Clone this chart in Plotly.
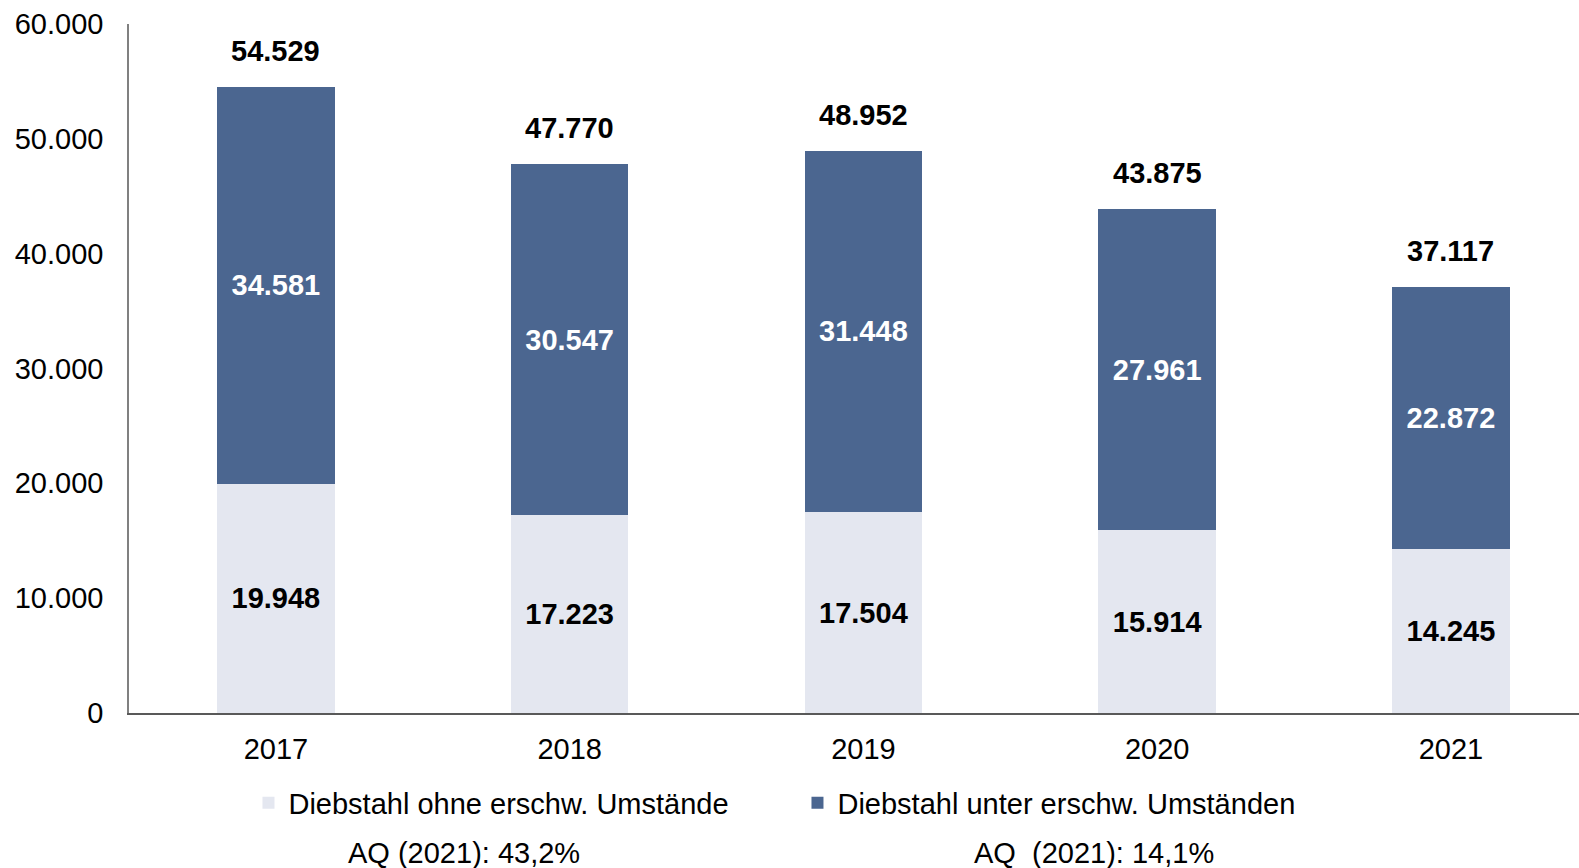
import plotly.graph_objects as go

years = ["2017", "2018", "2019", "2020", "2021"]
ohne = [19948, 17223, 17504, 15914, 14245]
unter = [34581, 30547, 31448, 27961, 22872]
totals = [54529, 47770, 48952, 43875, 37117]
series_names = ["Diebstahl ohne erschw. Umstände", "Diebstahl unter erschw. Umständen"]
aq_texts = ["AQ (2021): 43,2%", "AQ\u00a0 (2021): 14,1%"]
y_ticks = [0, 10000, 20000, 30000, 40000, 50000, 60000]

FONT = "Liberation Sans, Arial, sans-serif"
FS = 29
LIGHT = "#E4E7F0"
DARK = "#4B6690"

fig = go.Figure()
fig.add_trace(go.Bar(
    x=years, y=ohne, name=series_names[0], marker=dict(color=LIGHT, line=dict(width=0)),
    width=0.4, texttemplate="%{y:,d}", textposition="inside", insidetextanchor="middle",
    textangle=0, constraintext="none",
    textfont=dict(family=FONT, size=FS, color="black", weight="bold"),
))
fig.add_trace(go.Bar(
    x=years, y=unter, name=series_names[1], marker=dict(color=DARK, line=dict(width=0)),
    width=0.4, texttemplate="%{y:,d}", textposition="inside", insidetextanchor="middle",
    textangle=0, constraintext="none",
    textfont=dict(family=FONT, size=FS, color="white", weight="bold"),
))

annotations = []
for i, t in enumerate(totals):
    annotations.append(dict(
        x=i, y=t, xref="x", yref="y", text=f"{t:,d}".replace(",", "."),
        showarrow=False, yanchor="bottom", yshift=18,
        font=dict(family=FONT, size=FS, color="black", weight="bold"),
    ))
for xp, txt in zip([0.231, 0.6655], aq_texts):
    annotations.append(dict(
        x=xp, y=-0.203, xref="paper", yref="paper", text=txt, showarrow=False,
        xanchor="center", yanchor="middle",
        font=dict(family=FONT, size=FS, color="black"),
    ))

fig.update_layout(
    width=1579, height=868,
    barmode="stack",
    separators=",.",
    paper_bgcolor="white", plot_bgcolor="white",
    margin=dict(l=129, r=0, t=24, b=155, autoexpand=False),
    font=dict(family=FONT, size=FS, color="black"),
    showlegend=True,
    legend=dict(
        orientation="h", x=0.0824, xanchor="left", y=-0.1306, yanchor="middle",
        font=dict(family=FONT, size=FS, color="black"),
        traceorder="normal", entrywidth=504, entrywidthmode="pixels",
        bgcolor="rgba(0,0,0,0)",
    ),
    annotations=annotations,
)
fig.update_yaxes(
    range=[0, 60000], tickvals=y_ticks, tickformat=",d", showgrid=False, zeroline=False,
    showline=True, linecolor="#808080", linewidth=1.5, ticks="", ticklabelstandoff=18,
    tickfont=dict(family=FONT, size=FS, color="black"), automargin=False,
)
fig.update_xaxes(
    type="category", range=[-0.5, 4.436], showgrid=False, showline=True,
    linecolor="#595959", linewidth=1.5, ticks="", ticklabelstandoff=9,
    tickfont=dict(family=FONT, size=FS, color="black"), automargin=False,
)

fig.write_html(
    "out.html",
    config={"displayModeBar": False},
    post_script="document.body.style.margin='0';document.body.style.overflow='hidden';",
)
